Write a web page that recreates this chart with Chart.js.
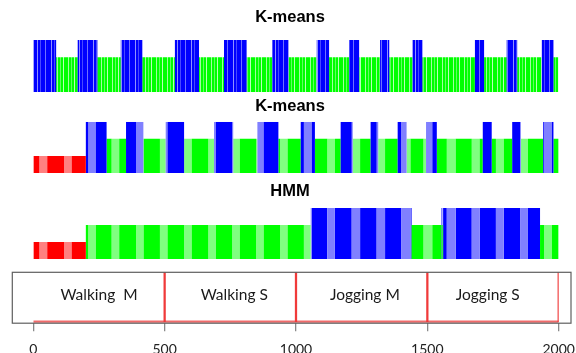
<!DOCTYPE html>
<html>
<head>
<meta charset="utf-8">
<script src="https://cdn.jsdelivr.net/npm/chart.js@4.4.1/dist/chart.umd.min.js"></script>
<style>
  html, body { margin: 0; padding: 0; background: #fff; overflow: hidden; }
  #wrap { position: relative; width: 576px; height: 353px; overflow: hidden; }
  canvas { position: absolute; left: 0; }
</style>
</head>
<body>
<div id="wrap">
  <canvas id="fine" width="576" height="92" style="top:0px"></canvas>
  <canvas id="kmeans" width="576" height="78" style="top:95px"></canvas>
  <canvas id="hmm" width="576" height="79" style="top:180px"></canvas>
  <canvas id="phases" width="576" height="103" style="top:265px"></canvas>
</div>
<script>
// ---- data -------------------------------------------------------------
// sample index axis
const sampleMax = 2000;
const tickValues = [0, 500, 1000, 1500, 2000];

// activity sessions along the recording
const phaseNames = ['Walking  M', 'Walking S', 'Jogging M', 'Jogging S'];
const phaseEnds = [500, 1000, 1500, 2000];
const phaseLabelAt = [250, 765, 1262, 1730];

// cluster codes: 1 = red, 2 = green, 3 = blue (bar height = code)
// K-means on short windows: segment boundaries and cluster of each segment
const fineBreaks = [0, 87, 169, 244, 333, 415, 539, 631, 726, 812, 910, 971, 1079, 1126,
  1203, 1241, 1320, 1355, 1444, 1481, 1681, 1716, 1802, 1842, 1935, 1980, 2000];
const fineClass = [3, 2, 3, 2, 3, 2, 3, 2, 3, 2, 3, 2, 3, 2, 3, 2, 3, 2, 3, 2, 3, 2, 3, 2, 3, 2];

// K-means
const kmeansBreaks = [0, 200, 279, 353, 419, 504, 574, 688, 761, 853, 933, 1018, 1072, 1170,
  1216, 1284, 1313, 1387, 1421, 1495, 1536, 1711, 1745, 1823, 1856, 1941, 1980, 2000];
const kmeansClass = [1, 3, 2, 3, 2, 3, 2, 3, 2, 3, 2, 3, 2, 3, 2, 3, 2, 3, 2, 3, 2, 3, 2, 3, 2, 3, 2];

// HMM
const hmmBreaks = [0, 200, 1056, 1440, 1554, 1557, 1560, 1929, 2000];
const hmmClass = [1, 2, 3, 2, 3, 2, 3, 2];

// alternate blocks of samples drawn in the lighter tint
const lightStart = [23, 117, 209, 298, 391, 482, 574, 666, 757, 848, 939, 1030, 1119, 1212,
  1307, 1400, 1485, 1574, 1669, 1761, 1853, 1944];
const lightEnd = [53, 146, 238, 327, 420, 511, 603, 695, 786, 877, 968, 1060, 1148, 1244,
  1339, 1436, 1519, 1608, 1699, 1791, 1883, 1974];

// ---- styling ----------------------------------------------------------
const tints = {
  1: ['#ff0000', '#ff8080'],
  2: ['#00ff00', '#80ff80'],
  3: ['#0000ff', '#8080ff']
};

function stripePattern(base, lines, width) {
  const c = document.createElement('canvas');
  c.width = width; c.height = 4;
  const g = c.getContext('2d');
  g.fillStyle = base; g.fillRect(0, 0, width, 4);
  lines.forEach(([col, color]) => { g.fillStyle = color; g.fillRect(col, 0, 1, 4); });
  return g.createPattern(c, 'repeat');
}
const fineFills = {
  2: stripePattern('#00ff00', [[2, '#a0ffa0'], [5, '#60ff60'], [8, '#b8ffb8']], 11),
  3: stripePattern('#0000ff', [[3, '#7070ff'], [9, '#9090ff'], [12, '#4848ff']], 14)
};

// ---- helpers ----------------------------------------------------------
function isLight(v) {
  for (let j = 0; j < lightStart.length; j++) {
    if (v >= lightStart[j] && v < lightEnd[j]) return true;
  }
  return false;
}

// split the recording into pieces of constant cluster and tint
function buildPieces(breaks, classes, tinted) {
  const lo = breaks[0], hi = breaks[breaks.length - 1];
  let cuts = breaks.slice();
  if (tinted) cuts = cuts.concat(lightStart, lightEnd);
  cuts = [...new Set(cuts)].filter(v => v >= lo && v <= hi).sort((a, b) => a - b);
  const pieces = [];
  for (let i = 0; i < cuts.length - 1; i++) {
    const a = cuts[i], b = cuts[i + 1], m = (a + b) / 2;
    let k = 0;
    while (k < classes.length - 1 && breaks[k + 1] <= m) k++;
    pieces.push({ from: a, to: b, cls: classes[k], light: tinted && isLight(m) });
  }
  return pieces;
}

// one filled step outline per (cluster, tint) pair
function stepDatasets(pieces, fillFor) {
  const keys = [];
  pieces.forEach(p => {
    const key = p.cls + (p.light ? 'L' : 'D');
    if (!keys.includes(key)) keys.push(key);
  });
  return keys.map(key => {
    const cls = parseInt(key, 10), light = key.endsWith('L');
    const data = pieces.map(p => ({
      x: p.from,
      y: (p.cls === cls && p.light === light) ? p.cls : 0
    }));
    data.push({ x: pieces[pieces.length - 1].to, y: data[data.length - 1].y });
    return {
      type: 'line',
      data,
      stepped: true,
      fill: 'origin',
      backgroundColor: fillFor(cls, light),
      borderColor: 'rgba(0,0,0,0)',
      borderWidth: 0,
      pointRadius: 0,
      tension: 0
    };
  });
}

function panel(id, title, datasets, titlePad) {
  return new Chart(document.getElementById(id), {
    type: 'line',
    data: { datasets },
    options: {
      responsive: false,
      devicePixelRatio: 1,
      animation: false,
      events: [],
      layout: { padding: { left: 21.3, right: 17.3, top: 0, bottom: 0 } },
      plugins: {
        legend: { display: false },
        tooltip: { enabled: false },
        title: {
          display: true,
          text: title,
          color: '#000',
          font: { family: "'Liberation Sans', Arial, sans-serif", size: 16.5, weight: 'bold', lineHeight: 1.2 },
          padding: titlePad
        }
      },
      scales: {
        x: { type: 'linear', min: 0, max: sampleMax, display: false },
        y: {
          type: 'linear', min: 0, max: 3, position: 'left',
          ticks: { display: false }, grid: { display: false }, border: { display: false },
          afterFit(s) { s.width = 12; }
        }
      }
    }
  });
}

// ---- cluster panels ---------------------------------------------------
panel('fine', 'K-means',
  stepDatasets(buildPieces(fineBreaks, fineClass, false), cls => fineFills[cls]),
  { top: 7.8, bottom: 12.4 });

panel('kmeans', 'K-means',
  stepDatasets(buildPieces(kmeansBreaks, kmeansClass, true), (cls, light) => tints[cls][light ? 1 : 0]),
  { top: 1.5, bottom: 5.4 });

panel('hmm', 'HMM',
  stepDatasets(buildPieces(hmmBreaks, hmmClass, true), (cls, light) => tints[cls][light ? 1 : 0]),
  { top: 1.5, bottom: 6.7 });

// ---- session strip with sample axis ---------------------------------
const framePlugin = {
  id: 'frame',
  afterDraw(chart, args, opts) {
    const { ctx, chartArea: a } = chart;
    ctx.save();
    ctx.strokeStyle = opts.color;
    ctx.lineWidth = opts.width;
    ctx.strokeRect(a.left - opts.left, a.top, (a.right + opts.right) - (a.left - opts.left), a.bottom - a.top);
    ctx.restore();
  }
};

const phaseLabelPlugin = {
  id: 'phaseLabels',
  afterDatasetsDraw(chart, args, opts) {
    const { ctx, scales: { x, y } } = chart;
    ctx.save();
    ctx.font = opts.font;
    ctx.fillStyle = opts.color;
    ctx.textAlign = 'center';
    ctx.textBaseline = 'middle';
    phaseNames.forEach((t, i) => {
      ctx.fillText(t, x.getPixelForValue(phaseLabelAt[i]), y.getPixelForValue(opts.level));
    });
    ctx.restore();
  }
};

new Chart(document.getElementById('phases'), {
  type: 'bar',
  data: {
    datasets: [
      {
        type: 'bar',
        data: phaseEnds.map(v => ({ x: v, y: 1 })),
        backgroundColor: '#f03a3a',
        barThickness: 1.6,
        borderWidth: 0
      },
      {
        type: 'line',
        data: [{ x: 0, y: 0 }, { x: sampleMax, y: 0 }],
        borderColor: 'rgba(238,70,70,0.8)',
        borderWidth: 2.2,
        pointRadius: 0,
        fill: false
      }
    ]
  },
  options: {
    responsive: false,
    devicePixelRatio: 1,
    animation: false,
    events: [],
    layout: { padding: { left: 33.3, right: 17.3, top: 7.3, bottom: 0 } },
    plugins: {
      legend: { display: false },
      tooltip: { enabled: false },
      frame: { left: 21, right: 12.3, color: '#5f5f5f', width: 1.2 },
      phaseLabels: { font: "15.5px Lato, 'Open Sans', sans-serif", color: '#1a1a1a', level: 0.55 }
    },
    scales: {
      x: {
        type: 'linear', min: 0, max: sampleMax, offset: false,
        afterBuildTicks(s) { s.ticks = tickValues.map(v => ({ value: v })); },
        // the end labels sit inside the layout padding already
        afterFit(s) { s.paddingLeft = 0; s.paddingRight = 0; },
        grid: { display: true, drawOnChartArea: false, drawTicks: true, tickLength: 8, color: '#8a8a8a', lineWidth: 1.3, offset: false },
        border: { display: false },
        ticks: {
          autoSkip: false, maxRotation: 0, padding: 10, color: '#222',
          font: { family: "Lato, 'Open Sans', sans-serif", size: 14 },
          callback: v => String(v)
        }
      },
      y: { type: 'linear', min: -0.03, max: 1, display: false }
    }
  },
  plugins: [framePlugin, phaseLabelPlugin]
});
</script>
</body>
</html>
